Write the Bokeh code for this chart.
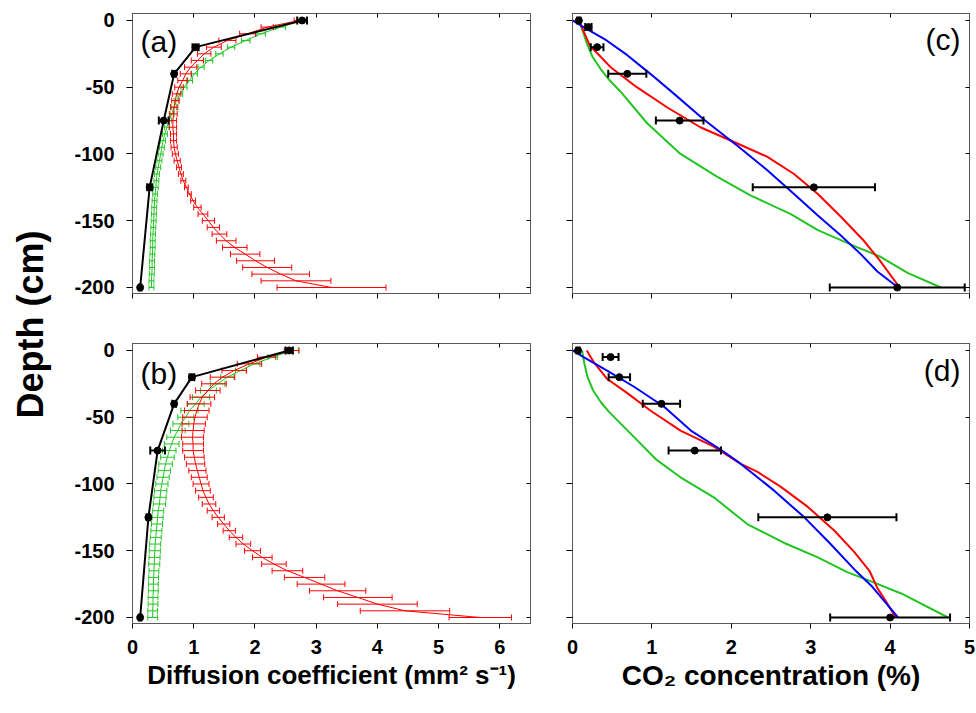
import math

from bokeh.embed import file_html
from bokeh.layouts import column, row
from bokeh.models import FixedTicker, Label, LinearAxis
from bokeh.plotting import figure
from bokeh.resources import INLINE

# ---------------------------------------------------------------- data
# depth grid of the modelled diffusion profiles (cm)
depth_model = [0, -5, -10, -15, -20, -25, -30, -35, -40, -45, -50, -55, -60, -65,
               -70, -75, -80, -85, -90, -95, -100, -105, -110, -115, -120, -125,
               -130, -135, -140, -145, -150, -155, -160, -165, -170, -175, -180,
               -185, -190, -195, -200]

# measured depths (cm)
depth_meas_ab = [0, -20, -40, -75, -125, -200]
depth_meas_cd = [0, -5, -20, -40, -75, -125, -200]

# (a) diffusion coefficient, mm2 s-1
a_meas = [2.77, 1.03, 0.68, 0.51, 0.28, 0.125]
a_meas_err = [0.08, 0.05, 0.03, 0.08, 0.04, 0.02]
a_red = [2.72, 2.20, 1.88, 1.55, 1.33, 1.17, 1.06, 0.95, 0.87, 0.82, 0.76, 0.72,
         0.70, 0.68, 0.67, 0.66, 0.66, 0.67, 0.67, 0.68, 0.70, 0.73, 0.76, 0.79,
         0.83, 0.88, 0.93, 0.99, 1.06, 1.15, 1.24, 1.32, 1.42, 1.53, 1.67, 1.84,
         2.01, 2.20, 2.42, 2.67, 3.25]
a_red_err = [0.08, 0.10, 0.13, 0.14, 0.12, 0.11, 0.10, 0.10, 0.09, 0.08, 0.07, 0.07,
             0.06, 0.06, 0.06, 0.06, 0.06, 0.05, 0.05, 0.05, 0.05, 0.05, 0.04, 0.04,
             0.04, 0.03, 0.03, 0.04, 0.06, 0.08, 0.10, 0.10, 0.12, 0.16, 0.20, 0.24,
             0.31, 0.40, 0.47, 0.57, 0.89]
a_green = [2.77, 2.42, 2.10, 1.85, 1.61, 1.42, 1.25, 1.12, 1.01, 0.93, 0.84, 0.78,
           0.72, 0.68, 0.64, 0.60, 0.56, 0.53, 0.50, 0.48, 0.46, 0.44, 0.42, 0.40,
           0.39, 0.38, 0.37, 0.36, 0.355, 0.35, 0.345, 0.34, 0.335, 0.33, 0.33,
           0.325, 0.32, 0.32, 0.315, 0.31, 0.31]
a_green_err = [0.08, 0.08, 0.07, 0.07, 0.06, 0.06, 0.06, 0.05, 0.05, 0.05, 0.05,
               0.04, 0.04, 0.04, 0.04, 0.04, 0.04, 0.04, 0.04, 0.04, 0.04, 0.04,
               0.04, 0.04, 0.04, 0.04, 0.04, 0.04, 0.04, 0.04, 0.04, 0.04, 0.04,
               0.04, 0.04, 0.04, 0.04, 0.04, 0.04, 0.04, 0.04]

# (b) diffusion coefficient, mm2 s-1
b_meas = [2.56, 0.97, 0.68, 0.41, 0.26, 0.125]
b_meas_err = [0.06, 0.04, 0.03, 0.12, 0.03, 0.02]
b_red = [2.60, 2.19, 1.91, 1.66, 1.47, 1.33, 1.23, 1.14, 1.09, 1.05, 1.02, 1.00,
         0.99, 0.98, 0.99, 0.99, 1.01, 1.03, 1.06, 1.09, 1.12, 1.15, 1.20, 1.25,
         1.32, 1.40, 1.49, 1.58, 1.69, 1.81, 1.96, 2.12, 2.31, 2.53, 2.81, 3.08,
         3.35, 3.68, 4.00, 4.45, 5.68]
b_red_err = [0.12, 0.15, 0.20, 0.20, 0.20, 0.20, 0.20, 0.20, 0.19, 0.20, 0.20, 0.19,
             0.18, 0.18, 0.17, 0.17, 0.16, 0.15, 0.14, 0.13, 0.13, 0.12, 0.12, 0.11,
             0.10, 0.10, 0.10, 0.10, 0.11, 0.12, 0.13, 0.16, 0.20, 0.25, 0.33, 0.39,
             0.46, 0.56, 0.65, 0.73, 0.51]
b_green = [2.61, 2.29, 1.99, 1.77, 1.55, 1.39, 1.24, 1.12, 1.03, 0.93, 0.87, 0.79,
           0.74, 0.68, 0.64, 0.60, 0.57, 0.54, 0.52, 0.50, 0.48, 0.46, 0.45, 0.44,
           0.42, 0.41, 0.40, 0.39, 0.38, 0.37, 0.365, 0.36, 0.355, 0.35, 0.345,
           0.34, 0.34, 0.335, 0.335, 0.33, 0.33]
b_green_err = [0.10, 0.08, 0.09, 0.09, 0.11, 0.12, 0.13, 0.14, 0.14, 0.14, 0.13,
               0.13, 0.12, 0.12, 0.12, 0.11, 0.11, 0.11, 0.10, 0.10, 0.10, 0.10,
               0.10, 0.10, 0.09, 0.09, 0.09, 0.09, 0.09, 0.09, 0.09, 0.09, 0.09,
               0.08, 0.08, 0.08, 0.08, 0.08, 0.08, 0.08, 0.08]

# (c) CO2 concentration, %
c_meas = [0.08, 0.20, 0.31, 0.69, 1.35, 3.04, 4.09]
c_meas_err = [0.02, 0.04, 0.08, 0.24, 0.30, 0.77, 0.85]
c_blue = [0.0, 0.14, 0.43, 0.69, 0.98, 1.28, 1.65, 2.08, 2.45, 2.79, 3.09, 3.38,
          3.63, 3.84, 4.10]
c_blue_depth = [0, -5, -15, -26, -40, -55, -74, -94, -112, -130, -146, -161,
                -175, -188, -200]
c_red = [0.08, 0.22, 0.48, 0.81, 1.19, 1.61, 2.07, 2.45, 2.79, 3.09, 3.38, 3.67,
         3.86, 4.12]
c_red_depth = [0, -19, -35, -50, -65, -80, -92, -102, -115, -130, -147, -165,
               -179, -200]
c_green = [0.08, 0.13, 0.18, 0.25, 0.35, 0.47, 0.60, 0.94, 1.36, 1.82, 2.24, 2.75,
           3.09, 3.59, 3.88, 4.22, 4.64]
c_green_depth = [0, -8, -17, -27, -36, -45, -53, -77, -100, -117, -131, -145,
                 -157, -170, -177, -189, -200]

# (d) CO2 concentration, %
d_meas = [0.07, 0.48, 0.59, 1.12, 1.54, 3.21, 4.00]
d_meas_err = [0.02, 0.10, 0.135, 0.235, 0.33, 0.87, 0.755]
d_blue = [0.0, 0.14, 0.43, 0.77, 1.15, 1.49, 1.86, 2.12, 2.54, 2.92, 3.25, 3.55,
          3.76, 3.93, 4.10]
d_blue_depth = [0, -5, -15, -27, -42, -60, -74, -85, -105, -125, -145, -164,
                -176, -188, -200]
d_red = [0.18, 0.27, 0.43, 0.69, 0.98, 1.36, 1.78, 2.12, 2.33, 2.62, 2.96, 3.30,
         3.55, 3.74, 3.84, 3.97, 4.07]
d_red_depth = [0, -9, -21, -32, -45, -60, -72, -85, -91, -102, -117, -135, -151,
               -165, -178, -190, -200]
d_green = [0.12, 0.15, 0.19, 0.26, 0.36, 0.46, 0.56, 0.81, 1.06, 1.36, 1.78, 2.20,
           2.66, 3.09, 3.46, 3.72, 4.14, 4.73]
d_green_depth = [0, -10, -20, -30, -39, -46, -52, -67, -82, -95, -110, -130,
                 -144, -155, -166, -172, -182, -200]

diff_ticks = [0, 1, 2, 3, 4, 5, 6]
conc_ticks = [0, 1, 2, 3, 4, 5]
depth_ticks = [0, -50, -100, -150, -200]
depth_tick_labels = ["0", "-50", "-100", "-150", "-200"]

# ---------------------------------------------------------------- style
FONT = "Liberation Sans"
FRAME = "#5a5a5a"
RED = "#ff0000"
GREEN = "#22c422"
BLUE = "#0000ff"


def style_axis(ax, ticks, tick_in, tick_out, labels, standoff, names=None):
    ax.ticker = FixedTicker(ticks=ticks)
    ax.axis_line_color = FRAME
    ax.major_tick_line_color = "black"
    ax.major_tick_in = tick_in
    ax.major_tick_out = tick_out
    ax.minor_tick_line_color = None
    ax.major_label_text_font = FONT
    ax.major_label_text_font_style = "bold"
    if names is not None:
        ax.major_label_overrides = dict(zip(ticks, names))
    if labels:
        ax.major_label_text_color = "black"
        ax.major_label_text_font_size = "20px"
        ax.major_label_standoff = standoff
    else:
        # tick marks only, no numbers
        ax.major_label_text_color = None
        ax.major_label_text_font_size = "0px"
        ax.major_label_standoff = 0


def panel(width, height, borders, x_end, xticks, x_labels, y_labels):
    left, right, top, bottom = borders
    p = figure(width=width, height=height, x_range=(0, x_end),
               y_range=(-204.5, 5.2), output_backend="svg",
               toolbar_location=None, min_border_left=left,
               min_border_right=right, min_border_top=top,
               min_border_bottom=bottom)
    p.grid.visible = False
    p.outline_line_color = FRAME
    p.background_fill_color = "white"
    p.border_fill_color = "white"
    style_axis(p.below[0], xticks, 0, 5, x_labels, 11)
    style_axis(p.left[0], depth_ticks, 0, 6, y_labels, 12, depth_tick_labels)
    top_ax = LinearAxis()
    style_axis(top_ax, xticks, 4, 0, False, 0)
    p.add_layout(top_ax, "above")
    right_ax = LinearAxis()
    style_axis(right_ax, depth_ticks, 4, 0, False, 0)
    p.add_layout(right_ax, "right")
    return p


def error_bars(p, xs, ys, errs, color, cap, lw):
    lo = [x - e for x, e in zip(xs, errs)]
    hi = [x + e for x, e in zip(xs, errs)]
    p.segment(x0=lo, y0=ys, x1=hi, y1=ys, line_color=color, line_width=lw)
    p.scatter(x=lo + hi, y=ys + ys, marker="dash", angle=math.pi / 2, size=cap,
              line_color=color, line_width=lw)


def panel_label(p, text, x, y, align):
    # x from the frame's left edge, y from the frame's bottom edge (pixels)
    p.add_layout(Label(x=x, y=y, x_units="screen", y_units="screen", text=text,
                       text_font=FONT, text_font_size="30px", text_align=align,
                       text_baseline="alphabetic", text_color="black"))


def diffusion_panel(p, meas, meas_err, red, red_err, green, green_err):
    error_bars(p, green, depth_model, green_err, GREEN, 6, 1)
    p.line(green, depth_model, line_color=GREEN, line_width=1)
    error_bars(p, red, depth_model, red_err, RED, 6, 1)
    p.line(red, depth_model, line_color=RED, line_width=1)
    p.line(meas, depth_meas_ab, line_color="black", line_width=2)
    error_bars(p, meas, depth_meas_ab, meas_err, "black", 8, 2)
    p.scatter(meas, depth_meas_ab, size=7, color="black")


def co2_panel(p, meas, meas_err, blue, blue_d, red, red_d, green, green_d):
    p.line(green, green_d, line_color=GREEN, line_width=2)
    p.line(red, red_d, line_color=RED, line_width=2)
    p.line(blue, blue_d, line_color=BLUE, line_width=2)
    error_bars(p, meas, depth_meas_cd, meas_err, "black", 8, 2)
    p.scatter(meas, depth_meas_cd, size=7, color="black")


# ---------------------------------------------------------------- panels
pa = panel(491, 318, (72, 21, 13, 25), 6.5, diff_ticks, False, True)
diffusion_panel(pa, a_meas, a_meas_err, a_red, a_red_err, a_green, a_green_err)
panel_label(pa, "(a)", 8, 252, "left")

pb = panel(491, 395, (72, 21, 25, 90), 6.5, diff_ticks, True, True)
diffusion_panel(pb, b_meas, b_meas_err, b_red, b_red_err, b_green, b_green_err)
panel_label(pb, "(b)", 8, 250, "left")
pb.below[0].axis_label = "Diffusion coefficient (mm² s⁻¹)"

pc = panel(425, 318, (21, 7, 13, 25), 5, conc_ticks, False, False)
co2_panel(pc, c_meas, c_meas_err, c_blue, c_blue_depth, c_red, c_red_depth,
          c_green, c_green_depth)
panel_label(pc, "(c)", 388, 254, "right")

pd_ = panel(425, 395, (21, 7, 25, 90), 5, conc_ticks, True, False)
co2_panel(pd_, d_meas, d_meas_err, d_blue, d_blue_depth, d_red, d_red_depth,
          d_green, d_green_depth)
panel_label(pd_, "(d)", 388, 253, "right")
pd_.below[0].axis_label = "CO₂ concentration (%)"

for fig, size in ((pb, "26px"), (pd_, "28px")):
    ax = fig.below[0]
    ax.axis_label_text_font = FONT
    ax.axis_label_text_font_style = "bold"
    ax.axis_label_text_font_size = size
    ax.axis_label_text_color = "black"
    ax.axis_label_standoff = 3

# shared vertical title
ylab = figure(width=60, height=713, x_range=(0, 1), y_range=(0, 1),
              output_backend="svg", toolbar_location=None, min_border=0)
ylab.axis.visible = False
ylab.grid.visible = False
ylab.outline_line_color = None
ylab.add_layout(Label(x=30, y=389, x_units="screen", y_units="screen",
                      text="Depth (cm)", angle=90, angle_units="deg",
                      text_font=FONT, text_font_style="bold",
                      text_font_size="36px", text_align="center",
                      text_baseline="middle", text_color="black"))

layout = row(ylab, column(pa, pb), column(pc, pd_))

with open("out.html", "w") as f:
    f.write(file_html(layout, INLINE))
